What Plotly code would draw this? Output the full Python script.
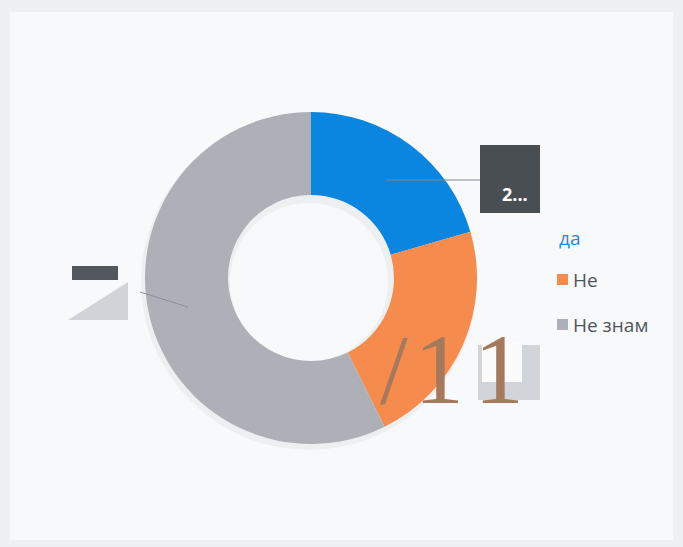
import plotly.graph_objects as go

W, H = 683, 547

# Survey answers and their shares (%)
labels = ["да", "Не", "Не знам"]
values = [20.5, 22.2, 57.3]
colors = ["#0b86e0", "#f58c4e", "#adb1b7"]

# Text shown in the callout boxes
callout_text = "2..."
stamp_glyphs = ["/", "1", "1"]


def px(x):
    return x / W


def py(y):
    return 1 - y / H


# Donut geometry in page pixels
cx, cy, r = 311, 278, 166

fig = go.Figure()

# soft shadow under the ring
fig.add_trace(go.Pie(
    values=[1], marker=dict(colors=["rgba(150,155,162,0.10)"]),
    hole=0.47, sort=False, textinfo="none", hoverinfo="skip", showlegend=False,
    domain=dict(x=[px(cx - r - 5), px(cx + r + 1)], y=[py(cy + r + 6), py(cy - r + 2)]),
))

fig.add_trace(go.Pie(
    labels=labels, values=values, hole=0.5, sort=False, direction="clockwise",
    rotation=0, textinfo="none", showlegend=False,
    marker=dict(colors=colors, line=dict(width=0)),
    domain=dict(x=[px(cx - r), px(cx + r)], y=[py(cy + r), py(cy - r)]),
))

shapes = [
    # page frame
    dict(type="rect", xref="paper", yref="paper", x0=px(10), x1=px(673), y0=py(540), y1=py(12),
         fillcolor="#f8f9fa", line=dict(width=0), layer="below"),
    # callout box for the blue slice
    dict(type="rect", xref="paper", yref="paper", x0=px(480), x1=px(540), y0=py(213), y1=py(145),
         fillcolor="#494e53", line=dict(width=0)),
    dict(type="line", xref="paper", yref="paper", x0=px(386), x1=px(480), y0=py(180), y1=py(180),
         line=dict(color="#7d8791", width=1)),
    # callout for the grey slice
    dict(type="path", xref="paper", yref="paper",
         path=f"M {px(68)} {py(320)} L {px(128)} {py(282)} L {px(128)} {py(320)} Z",
         fillcolor="rgba(175,180,187,0.55)", line=dict(width=0), layer="below"),
    dict(type="rect", xref="paper", yref="paper", x0=px(72), x1=px(118), y0=py(280), y1=py(266),
         fillcolor="#52585d", line=dict(width=0)),
    dict(type="line", xref="paper", yref="paper", x0=px(140), x1=px(188), y0=py(292), y1=py(307),
         line=dict(color="#8a9098", width=1)),
    # small box near the orange slice
    dict(type="rect", xref="paper", yref="paper", x0=px(478), x1=px(540), y0=py(400), y1=py(345),
         fillcolor="rgba(170,175,182,0.5)", line=dict(width=0), layer="below"),
    dict(type="rect", xref="paper", yref="paper", x0=px(482), x1=px(522), y0=py(382), y1=py(342),
         fillcolor="#fbfbfc", line=dict(width=0), layer="below"),
    # legend markers
    dict(type="rect", xref="paper", yref="paper", x0=px(557), x1=px(568), y0=py(285), y1=py(274),
         fillcolor=colors[1], line=dict(width=0)),
    dict(type="rect", xref="paper", yref="paper", x0=px(557), x1=px(568), y0=py(330), y1=py(319),
         fillcolor=colors[2], line=dict(width=0)),
]

annotations = [
    dict(x=px(500), y=py(180), text=f"<b>{callout_text}</b>", showarrow=False, xanchor="left",
         font=dict(family="Open Sans, DejaVu Sans", size=18, color="white")),
    # legend labels
    dict(x=px(557), y=py(238), text=labels[0], showarrow=False, xanchor="left",
         font=dict(family="Open Sans, DejaVu Sans", size=19, color="#1a8be3")),
    dict(x=px(571), y=py(280), text=labels[1], showarrow=False, xanchor="left",
         font=dict(family="Open Sans, DejaVu Sans", size=19, color="#50555c")),
    dict(x=px(571), y=py(325), text=labels[2], showarrow=False, xanchor="left",
         font=dict(family="Open Sans, DejaVu Sans", size=19, color="#50555c")),
]

# large serif stamp over the lower-right part of the ring (left edges in px)
for glyph, gx in zip(stamp_glyphs, [378, 412, 472]):
    annotations.append(dict(
        x=px(gx), y=py(427), text=glyph, showarrow=False, xanchor="left",
        font=dict(family="Liberation Serif, DejaVu Serif", size=100, color="#a5795b"),
    ))

fig.update_layout(
    width=W, height=H, margin=dict(l=0, r=0, t=0, b=0),
    paper_bgcolor="#eef0f3", plot_bgcolor="#eef0f3",
    shapes=shapes, annotations=annotations,
)

fig.write_html("out.html")
